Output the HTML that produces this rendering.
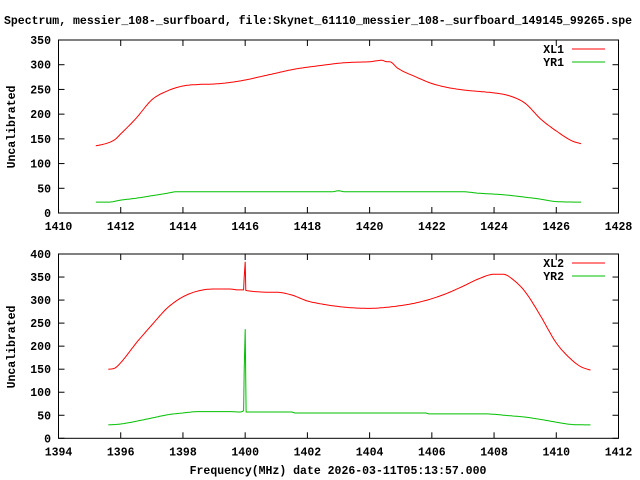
<!DOCTYPE html>
<html><head><meta charset="utf-8"><style>
html,body{margin:0;padding:0;background:#fff;}
svg{display:block;}
text{font-family:"Liberation Mono",monospace;font-weight:bold;font-size:11.5px;fill:#000;}
</style></head><body>
<svg id="s" width="640" height="480" xmlns="http://www.w3.org/2000/svg">
<text x="4" y="24">Spectrum, messier_108-_surfboard, file:Skynet_61110_messier_108-_surfboard_149145_99265.spe</text>
<text x="338" y="474" text-anchor="middle">Frequency(MHz) date 2026-03-11T05:13:57.000</text>
<text transform="translate(15,127) rotate(-90)" text-anchor="middle">Uncalibrated</text>
<text transform="translate(15,347) rotate(-90)" text-anchor="middle">Uncalibrated</text>
<g id="g"></g>
</svg>
<script>
function mono(d){
 var n=d.length,xs=d.map(function(p){return p[0]}),ys=d.map(function(p){return p[1]});
 var dl=[],m=[];
 for(var i=0;i<n-1;i++)dl.push((ys[i+1]-ys[i])/(xs[i+1]-xs[i]));
 m[0]=dl[0];m[n-1]=dl[n-2];
 for(var i=1;i<n-1;i++){ if(dl[i-1]*dl[i]<=0)m[i]=0; else m[i]=(dl[i-1]+dl[i])/2; }
 for(var i=0;i<n-1;i++){ if(dl[i]==0){m[i]=0;m[i+1]=0;continue;}
  var a=m[i]/dl[i],b=m[i+1]/dl[i],s=a*a+b*b; if(s>9){var t=3/Math.sqrt(s);m[i]=t*a*dl[i];m[i+1]=t*b*dl[i];}}
 var out=[];
 for(var i=0;i<n-1;i++){var h=xs[i+1]-xs[i],k=Math.max(1,Math.round(h*20));
  for(var j=0;j<k;j++){var t=j/k,t2=t*t,t3=t2*t;
   out.push([xs[i]+t*h,(2*t3-3*t2+1)*ys[i]+(t3-2*t2+t)*h*m[i]+(-2*t3+3*t2)*ys[i+1]+(t3-t2)*h*m[i+1]]);}}
 out.push(d[n-1]);return out;
}
var g=document.getElementById('g'),h='';
function P(y0,y1,X0,X1,Ymax,ystep,xt,data,names){
 var L=58.5,R=618.5;
 function mx(v){return L+(v-X0)/(X1-X0)*(R-L);}
 function my(v){return y1-(v/Ymax)*(y1-y0);}
 h+='<rect x="'+L+'" y="'+y0+'" width="'+(R-L)+'" height="'+(y1-y0)+'" fill="none" stroke="#000" stroke-width="1"/>';
 for(var v=0;v<=Ymax;v+=ystep){var y=my(v);
  h+='<line x1="'+L+'" x2="'+(L+6)+'" y1="'+y+'" y2="'+y+'" stroke="#000"/><line x1="'+(R-6)+'" x2="'+R+'" y1="'+y+'" y2="'+y+'" stroke="#000"/>';
  h+='<text x="51" y="'+(y+4)+'" text-anchor="end">'+v+'</text>';}
 for(var v=X0;v<=X1;v+=xt){var x=mx(v);
  h+='<line x1="'+x+'" x2="'+x+'" y1="'+y1+'" y2="'+(y1-6)+'" stroke="#000"/><line x1="'+x+'" x2="'+x+'" y1="'+y0+'" y2="'+(y0+6)+'" stroke="#000"/>';
  h+='<text x="'+x+'" y="'+(y1+17)+'" text-anchor="middle">'+v+'</text>';}
 var cols=['#ff0000','#00c000'];
 data.forEach(function(d,i){
  var pts=mono(d).map(function(p){return mx(p[0]).toFixed(1)+','+my(p[1]).toFixed(1);}).join(' ');
  h+='<polyline points="'+pts+'" fill="none" stroke="'+cols[i]+'" stroke-width="1"/>';
  var ly=y0+9+i*13;
  h+='<text x="564" y="'+(ly+4)+'" text-anchor="end">'+names[i]+'</text><line x1="572" x2="605" y1="'+ly+'" y2="'+ly+'" stroke="'+cols[i]+'"/>';
 });
}
P(40,213,1410,1428,350,50,2,[
[[1411.2,136],[1411.5,140],[1411.8,148],[1412,160],[1412.5,192],[1413,229],[1413.5,247],[1414,257],[1414.5,260],[1415,261],[1415.5,264],[1416,269],[1416.5,276],[1417,283],[1417.5,290],[1418,295],[1418.5,299],[1419,303],[1419.5,305],[1420,306],[1420.4,309],[1420.55,306],[1420.65,306],[1420.9,293],[1421.5,275],[1422,262],[1422.5,254],[1423,249],[1423.5,246],[1424,243],[1424.5,237],[1425,222],[1425.5,190],[1426,166],[1426.5,146],[1426.8,140]],
[[1411.2,22],[1411.6,22],[1412,26],[1412.5,30],[1413,35],[1413.5,40],[1413.8,43],[1418.8,43],[1419,45],[1419.2,43],[1423,43],[1423.5,40],[1424.3,37],[1425,32],[1425.5,28],[1426,23],[1426.8,22]]
],['XL1','YR1']);
P(254,438.3,1394,1412,400,50,2,[
[[1395.6,150],[1395.8,152],[1396,164],[1396.5,207],[1397,246],[1397.5,283],[1398,307],[1398.5,320],[1399,324],[1399.5,324],[1399.8,322],[1399.95,322],[1399.97,350],[1400,383],[1400.02,321],[1401,317],[1401.5,311],[1402,298],[1402.5,291],[1403,286],[1403.5,283],[1404,282],[1404.5,284],[1405,288],[1405.5,294],[1406,303],[1406.5,315],[1407,330],[1407.5,346],[1408,356],[1408.3,356],[1408.6,345],[1409,318],[1409.5,265],[1410,207],[1410.5,170],[1410.8,155],[1411.1,148]],
[[1395.6,29],[1396,31],[1396.5,37],[1397,44],[1397.5,51],[1398,55],[1398.5,58],[1399.5,58],[1399.8,57],[1399.95,60],[1399.97,150],[1400,237],[1400.03,57],[1401.5,57],[1401.6,55],[1405.8,55],[1405.9,53],[1407.7,53],[1408.5,49],[1409,46],[1409.5,41],[1410,35],[1410.5,30],[1411.1,29]]
],['XL2','YR2']);
g.innerHTML=h;
</script>
</body></html>
